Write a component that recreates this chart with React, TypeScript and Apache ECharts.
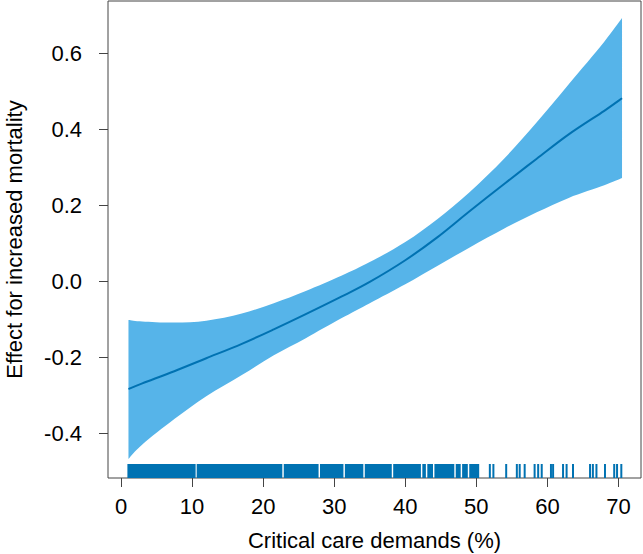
import React, { useEffect, useRef } from "react";
import * as echarts from "echarts";

// Fitted smooth effect and its confidence band
const demand = [1.05, 3, 7.5, 12, 17, 21.5, 26, 31, 35, 40, 44.5, 49, 54, 58.5, 63, 68, 70.5];
const effectFit = [-0.284, -0.269, -0.237, -0.203, -0.165, -0.127, -0.087, -0.041, -0.002, 0.055, 0.115, 0.183, 0.257, 0.322, 0.386, 0.448, 0.481];
const upperCI = [-0.102, -0.106, -0.109, -0.104, -0.085, -0.058, -0.026, 0.014, 0.05, 0.103, 0.163, 0.233, 0.324, 0.418, 0.518, 0.63, 0.692];
const lowerCI = [-0.468, -0.43, -0.363, -0.303, -0.247, -0.195, -0.15, -0.098, -0.058, -0.008, 0.04, 0.088, 0.139, 0.181, 0.219, 0.252, 0.271];

// Rug: dense runs of observations [from, to] and isolated observations
const rugDense: [number, number][] = [
  [0.9, 10.5], [10.65, 22.7], [22.9, 27.8], [28.0, 31.3], [31.5, 34.1], [34.3, 38.1], [38.3, 42.2],
  [42.4, 42.9], [43.1, 43.9], [44.1, 46.9], [47.1, 47.8], [48.0, 48.8], [49.0, 50.4],
];
const rugSingle = [51.9, 52.4, 54.2, 55.7, 56.1, 56.8, 58.2, 58.7, 59.2, 60.5, 60.8, 62.2, 62.7, 63.6, 66.0, 66.4, 66.9, 68.1, 69.4, 69.8, 70.4];

const xTicks = [0, 10, 20, 30, 40, 50, 60, 70];
const yTicks = [-0.4, -0.2, 0.0, 0.2, 0.4, 0.6];

const FONT = "'Liberation Sans', Arial, sans-serif";
const FS = 22;
const FILL = "#56B4E9";
const DARK = "#0072B2";
const AXIS = "#444444";

// Draws a Catmull-Rom style smooth curve through pixel points
function curveThrough(ctx: any, pts: number[][]) {
  for (let i = 0; i < pts.length - 1; i++) {
    const p0 = pts[i - 1] || pts[i];
    const p1 = pts[i];
    const p2 = pts[i + 1];
    const p3 = pts[i + 2] || p2;
    const c1x = p1[0] + (p2[0] - p0[0]) / 6;
    const c1y = p1[1] + (p2[1] - p0[1]) / 6;
    const c2x = p2[0] - (p3[0] - p1[0]) / 6;
    const c2y = p2[1] - (p3[1] - p1[1]) / 6;
    ctx.bezierCurveTo(c1x, c1y, c2x, c2y, p2[0], p2[1]);
  }
}

let registered = false;
function registerShapes() {
  if (registered) return;
  registered = true;
  echarts.graphic.registerShape(
    "ciBand",
    echarts.graphic.extendShape({
      shape: { upper: [] as number[][], lower: [] as number[][] },
      buildPath(ctx: any, shape: any) {
        const u: number[][] = shape.upper;
        const l: number[][] = shape.lower.slice().reverse();
        if (!u.length) return;
        ctx.moveTo(u[0][0], u[0][1]);
        curveThrough(ctx, u);
        ctx.lineTo(l[0][0], l[0][1]);
        curveThrough(ctx, l);
        ctx.closePath();
      },
    })
  );
  echarts.graphic.registerShape(
    "smoothCurve",
    echarts.graphic.extendShape({
      shape: { points: [] as number[][] },
      buildPath(ctx: any, shape: any) {
        const p: number[][] = shape.points;
        if (!p.length) return;
        ctx.moveTo(p[0][0], p[0][1]);
        curveThrough(ctx, p);
      },
    })
  );
}

export default function App() {
  const ref = useRef<HTMLDivElement>(null);
  useEffect(() => {
    if (!ref.current) return;
    registerShapes();
    const chart = echarts.init(ref.current, null, { renderer: "svg" });

    const rugData: number[][] = [
      ...rugDense.map((r) => [r[0], r[1], 0]),
      ...rugSingle.map((v) => [v, v, 1]),
    ];

    chart.setOption({
      animation: false,
      grid: {
        left: 108, top: 1, right: 2, bottom: 76,
        outerBoundsMode: "none",
        containLabel: false,
        show: true, borderColor: AXIS, borderWidth: 1, backgroundColor: "#fff",
      },
      xAxis: {
        type: "value",
        min: -1.83,
        max: 73.17,
        name: "Critical care demands (%)",
        nameLocation: "middle",
        nameGap: 51,
        nameTextStyle: { fontFamily: FONT, fontSize: FS, color: "#000" },
        axisLine: { show: false, onZero: false },
        axisTick: { show: true, inside: false, length: 9, customValues: xTicks, lineStyle: { color: AXIS, width: 1 } },
        axisLabel: { customValues: xTicks, margin: 17, fontFamily: FONT, fontSize: FS, color: "#000" },
        splitLine: { show: false },
      },
      yAxis: {
        type: "value",
        min: -0.518,
        max: 0.737,
        name: "Effect for increased mortality",
        nameLocation: "middle",
        nameGap: 83,
        nameRotate: 90,
        nameTextStyle: { fontFamily: FONT, fontSize: FS, color: "#000" },
        axisLine: { show: false, onZero: false },
        axisTick: { show: true, inside: false, length: 9, customValues: yTicks, lineStyle: { color: AXIS, width: 1 } },
        axisLabel: {
          customValues: yTicks, margin: 26, fontFamily: FONT, fontSize: FS, color: "#000",
          formatter: (v: number) => v.toFixed(1),
        },
        splitLine: { show: false },
      },
      series: [
        {
          type: "custom",
          name: "band",
          silent: true,
          data: [[0]],
          renderItem: (params: any, api: any) => ({
            type: "ciBand",
            shape: {
              upper: demand.map((x, i) => api.coord([x, upperCI[i]])),
              lower: demand.map((x, i) => api.coord([x, lowerCI[i]])),
            },
            style: { fill: FILL, stroke: null },
          }),
          z: 1,
        },
        {
          type: "custom",
          name: "fit",
          silent: true,
          data: [[0]],
          renderItem: (params: any, api: any) => ({
            type: "smoothCurve",
            shape: { points: demand.map((x, i) => api.coord([x, effectFit[i]])) },
            style: { fill: null, stroke: DARK, lineWidth: 2 },
          }),
          z: 2,
        },
        {
          type: "custom",
          name: "rug",
          silent: true,
          data: rugData,
          renderItem: (params: any, api: any) => {
            const cs = params.coordSys;
            const bottom = cs.y + cs.height;
            const a = api.coord([api.value(0), 0])[0];
            const b = api.coord([api.value(1), 0])[0];
            const single = api.value(2) === 1;
            const x0 = single ? a - 1 : a;
            const w = single ? 2 : Math.max(b - a, 1);
            return {
              type: "rect",
              shape: { x: x0, y: bottom - 14, width: w, height: 14 },
              style: { fill: DARK },
            };
          },
          z: 4,
        },
      ],
    });
    return () => chart.dispose();
  }, []);

  return <div ref={ref} style={{ position: "absolute", left: 0, top: 0, width: 643, height: 554 }} />;
}
